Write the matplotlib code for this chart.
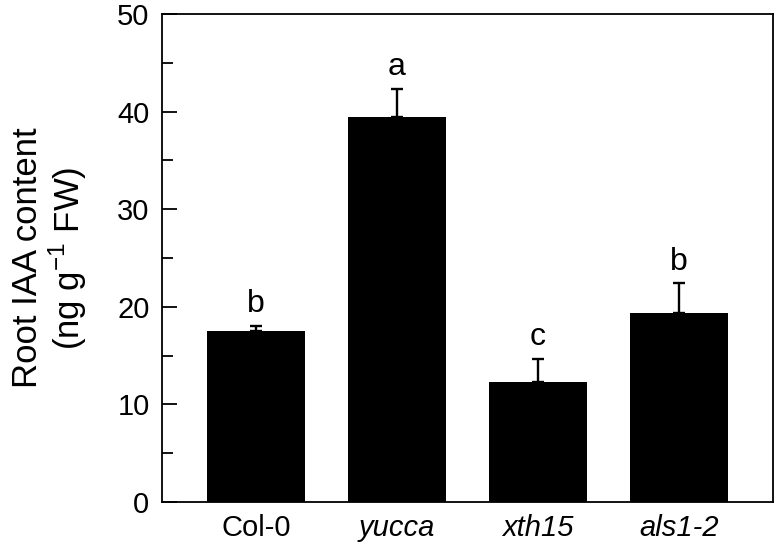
import matplotlib
matplotlib.use("Agg")
import matplotlib.pyplot as plt
from matplotlib.ticker import MultipleLocator

plt.rcParams['font.family'] = ['Liberation Sans', 'DejaVu Sans']
plt.rcParams['mathtext.fontset'] = 'custom'
plt.rcParams['mathtext.rm'] = 'Liberation Sans'

# data
genotypes = ["Col-0", "yucca", "xth15", "als1-2"]
italic = [False, True, True, True]
iaa = [17.5, 39.4, 12.3, 19.4]
err = [0.5, 2.9, 2.35, 3.0]
letters = ["b", "a", "c", "b"]

fig = plt.figure(figsize=(7.78, 5.55), dpi=100)
ax = fig.add_axes([162 / 778, 53 / 555, 611 / 778, 488 / 555])

x = list(range(len(genotypes)))
ax.bar(x, iaa, width=0.69, color="black", zorder=2)
ax.errorbar(x, iaa, yerr=[[0] * len(err), err], fmt="none", ecolor="black",
            elinewidth=1.7, capsize=4, capthick=1.7, zorder=1)

for xi, v, e, l in zip(x, iaa, err, letters):
    ax.text(xi, v + e + 0.7, l, ha="center", va="bottom", fontsize=23)

ax.set_xlim(-0.667, 3.667)
ax.set_ylim(0, 50)
ax.set_xticks(x)
ax.set_xticklabels(genotypes, fontsize=21)
for lab, it in zip(ax.get_xticklabels(), italic):
    if it:
        lab.set_style("italic")
ax.tick_params(axis="x", length=0, pad=9)

ax.yaxis.set_major_locator(MultipleLocator(10))
ax.yaxis.set_minor_locator(MultipleLocator(5))
ax.tick_params(axis="y", which="major", direction="in", length=11, width=1.3,
               labelsize=21, pad=9)
ax.tick_params(axis="y", which="minor", direction="in", length=8, width=1.3)

for s in ax.spines.values():
    s.set_linewidth(1.3)

ax.set_ylabel("Root IAA content\n(ng g$^{-1}$ FW)", fontsize=25, labelpad=20,
              linespacing=1.1)

fig.savefig("out.png", dpi=100)
